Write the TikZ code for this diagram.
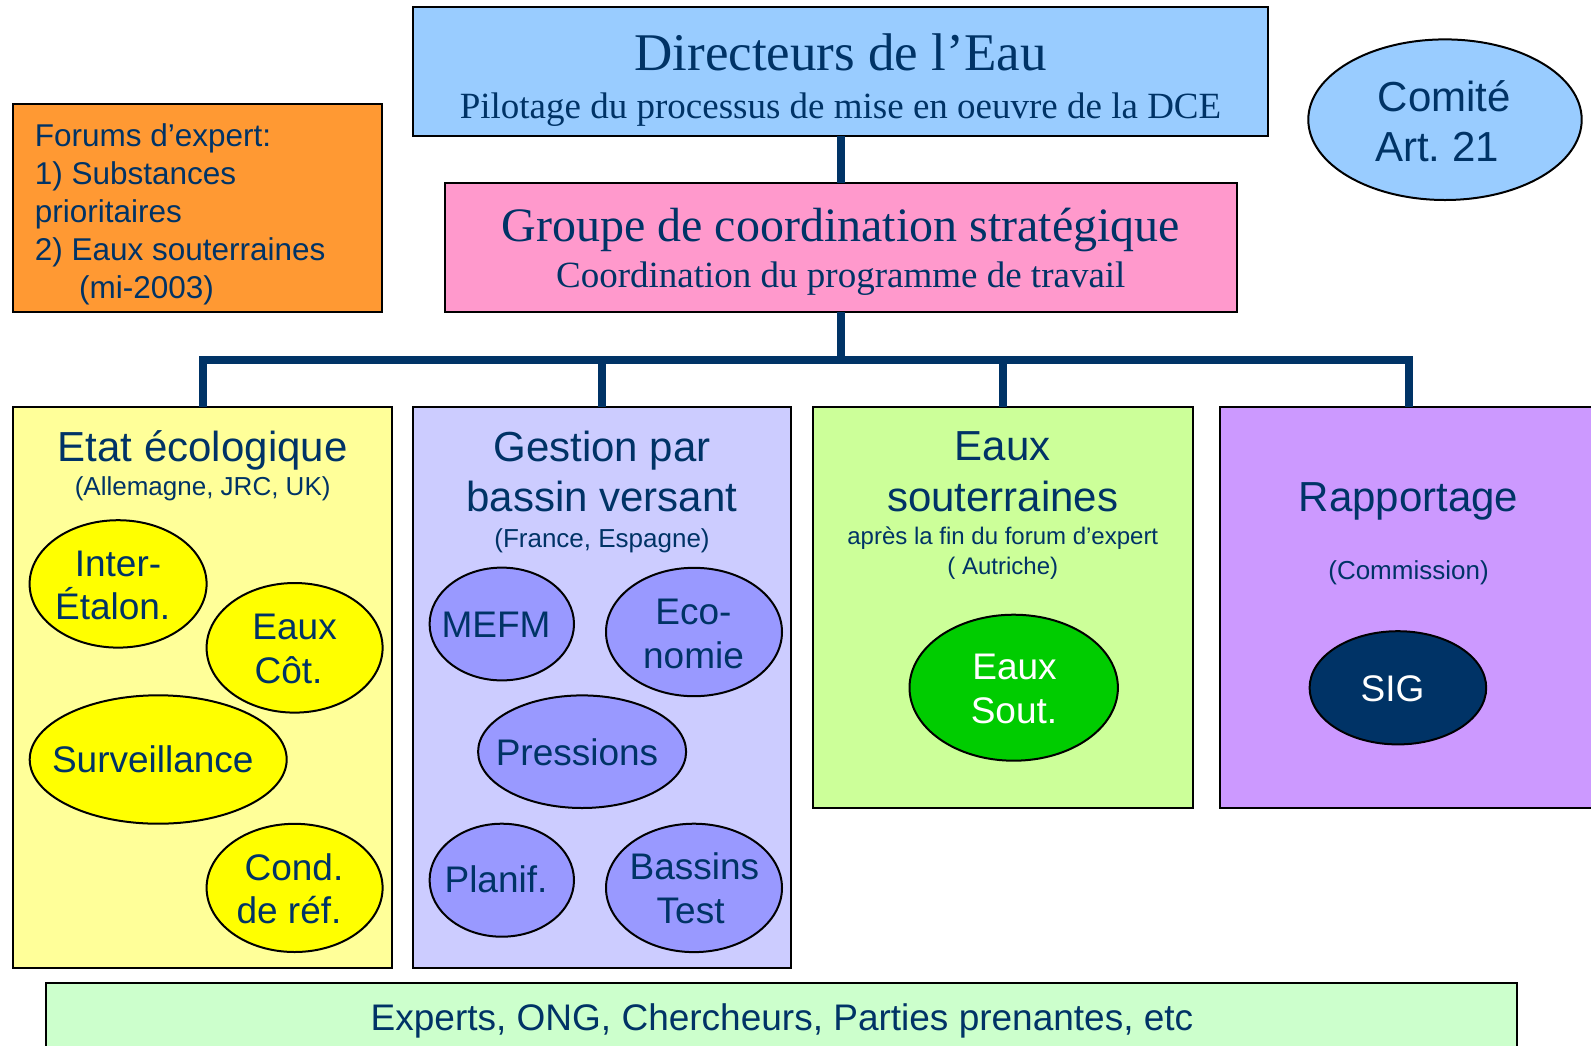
\documentclass[tikz,border=0pt]{standalone}
\usepackage{fontspec}
\setmainfont{Liberation Serif}
\setsansfont{Liberation Sans}
\usetikzlibrary{shapes.geometric}
\frenchspacing
\definecolor{navy}{HTML}{003366}
\definecolor{cdir}{HTML}{99CCFF}
\definecolor{cgrp}{HTML}{FF99CC}
\definecolor{cfor}{HTML}{FF9933}
\definecolor{cetat}{HTML}{FFFF99}
\definecolor{cetatE}{HTML}{FFFF00}
\definecolor{cgest}{HTML}{CCCCFF}
\definecolor{cgestE}{HTML}{9999FF}
\definecolor{ceaux}{HTML}{CCFF99}
\definecolor{ceauxE}{HTML}{00CC00}
\definecolor{crapp}{HTML}{CC99FF}
\definecolor{cbot}{HTML}{CCFFCC}
\newcommand\myfs[1]{\fontsize{#1}{#1}\selectfont}
\tikzset{
  box/.style={draw=black, line width=2pt, rectangle, inner sep=0pt, outer sep=0pt},
  oval/.style={draw=black, line width=2pt, ellipse, inner sep=0pt, outer sep=0pt},
  conn/.style={draw=navy, line width=8pt, line join=miter, line cap=butt},
  lbl/.style={inner sep=0pt, anchor=base, text=navy},
  ser/.style={lbl, font=\myfs{#1}\rmfamily},
  sans/.style={lbl, font=\myfs{#1}\sffamily},
  lsans/.style={inner sep=0pt, anchor=base west, text=navy, font=\myfs{#1}\sffamily},
}
\begin{document}
\begin{tikzpicture}[x=1pt, y=-1pt]
\clip (0,0) rectangle (1591,1045);
\fill[white] (0,0) rectangle (1591,1045);

% boxes
\node[box, fill=cdir, minimum width=855pt, minimum height=128.7pt] (dir) at (840.8,71.7) {};
\node[box, fill=cgrp, minimum width=791.6pt, minimum height=128.7pt] (grp) at (840.8,247.7) {};
\node[box, fill=cfor, minimum width=368.3pt, minimum height=208pt] (for) at (197.5,208) {};
\node[oval, fill=cdir, minimum width=273.4pt, minimum height=160.6pt] (com) at (1445,119.7) {};
\node[box, fill=cetat, minimum width=378.7pt, minimum height=560.3pt] (etat) at (202.7,687.5) {};
\node[box, fill=cgest, minimum width=377.5pt, minimum height=560.3pt] (gest) at (602,687.5) {};
\node[box, fill=ceaux, minimum width=379.4pt, minimum height=400.6pt] (eaux) at (1002.8,607.7) {};
\node[box, fill=crapp, minimum width=376.4pt, minimum height=400.6pt] (rapp) at (1408.5,607.7) {};
\node[box, fill=cbot, minimum width=1471.5pt, minimum height=70pt] (bot) at (781.7,1018.3) {};

% connectors
\coordinate (bar) at (840.8,360);
\draw[conn] (dir.south) -- (grp.north);
\draw[conn] (grp.south) -- (bar);
\draw[conn] (etat.north) |- (bar) -| (rapp.north);
\draw[conn] (gest.north) -- (gest.north |- bar);
\draw[conn] (eaux.north) -- (eaux.north |- bar);

% top texts
\node[ser=53] (t1) at (840.5,70) {Directeurs de l’Eau};
\node[ser=37] (t2) at (840.5,118) {Pilotage du processus de mise en oeuvre de la DCE};
\node[ser=48] (t3) at (840.8,241) {Groupe de coordination stratégique};
\node[ser=37] (t4) at (840.8,287) {Coordination du programme de travail};

\node[lsans=31.5] (f1) at (34.7,146) {Forums d’expert:};
\node[lsans=31.5] (f2) at (34.7,184) {1) Substances};
\node[lsans=31.5] (f3) at (34.7,222) {prioritaires};
\node[lsans=31.5] (f4) at (34.7,260) {2) Eaux souterraines};
\node[lsans=31.5] (f5) at (79,298) {(mi-2003)};

\node[sans=42] (c1) at (1444.5,111) {Comité};
\node[sans=42] (c2) at (1437,161.7) {Art. 21};

% column titles
\node[sans=42] (e1) at (202.7,461) {Etat écologique};
\node[sans=26] (e2) at (202.7,495.4) {(Allemagne, JRC, UK)};
\node[sans=42] (g1) at (602,461) {Gestion par};
\node[sans=42] (g2) at (602,511) {bassin versant};
\node[sans=26] (g3) at (602,547.3) {(France, Espagne)};
\node[sans=42] (s1) at (1002.8,460) {Eaux};
\node[sans=42] (s2) at (1002.8,511) {souterraines};
\node[sans=24] (s3) at (1002.8,544.8) {après la fin du forum d’expert};
\node[sans=24] (s4) at (1002.8,574.8) {( Autriche)};
\node[sans=42] (r1) at (1408.5,511) {Rapportage};
\node[sans=26] (r2) at (1408.5,579) {(Commission)};

% ellipses Etat
\node[oval, fill=cetatE, minimum width=177pt, minimum height=127.4pt] (inter) at (118.1,583.9) {};
\node[oval, fill=cetatE, minimum width=176pt, minimum height=129.6pt] (cot) at (294.6,647.8) {};
\node[oval, fill=cetatE, minimum width=257pt, minimum height=128.4pt] (surv) at (158.2,759.5) {};
\node[oval, fill=cetatE, minimum width=176pt, minimum height=128.2pt] (cond) at (294.6,887.9) {};
% ellipses Gestion
\node[oval, fill=cgestE, minimum width=144.4pt, minimum height=112.8pt] (mefm) at (501.8,624) {};
\node[oval, fill=cgestE, minimum width=176pt, minimum height=128.4pt] (eco) at (694,632) {};
\node[oval, fill=cgestE, minimum width=208pt, minimum height=112.6pt] (pres) at (582.1,751.7) {};
\node[oval, fill=cgestE, minimum width=144.4pt, minimum height=113pt] (plan) at (501.8,880.2) {};
\node[oval, fill=cgestE, minimum width=176pt, minimum height=128.4pt] (bass) at (694,887.9) {};
% ellipses others
\node[oval, fill=ceauxE, minimum width=208.4pt, minimum height=146pt] (esout) at (1013.7,687.7) {};
\node[oval, fill=navy, minimum width=176.6pt, minimum height=113.2pt] (sig) at (1397.9,687.8) {};

% ellipse texts
\node[sans=37] (i1) at (118,576) {Inter-};
\node[sans=37] (i2) at (112.7,619.3) {Étalon.};
\node[sans=37] (k1) at (294.6,639.8) {Eaux};
\node[sans=37] (k2) at (288.6,683.8) {Côt.};
\node[sans=37] (v1) at (152.8,772.3) {Surveillance};
\node[sans=37] (d1) at (294,880.5) {Cond.};
\node[sans=37] (d2) at (289,923.2) {de réf.};
\node[sans=37] (m1) at (496,637.8) {MEFM};
\node[sans=37] (o1) at (693.4,624.2) {Eco-};
\node[sans=37] (o2) at (693.5,668.2) {nomie};
\node[sans=37] (p1) at (577,765.3) {Pressions};
\node[sans=37] (n1) at (496,892.8) {Planif.};
\node[sans=37] (b1) at (694.4,879.2) {Bassins};
\node[sans=37] (b2) at (690.6,923.2) {Test};
\node[sans=37, text=white] (w1) at (1014.5,679.7) {Eaux};
\node[sans=37, text=white] (w2) at (1014,723.7) {Sout.};
\node[sans=37, text=white] (x1) at (1392.6,701.5) {SIG};

% bottom
\node[sans=37] (z1) at (782,1030.2) {Experts, ONG, Chercheurs, Parties prenantes, etc};
\end{tikzpicture}
\end{document}
